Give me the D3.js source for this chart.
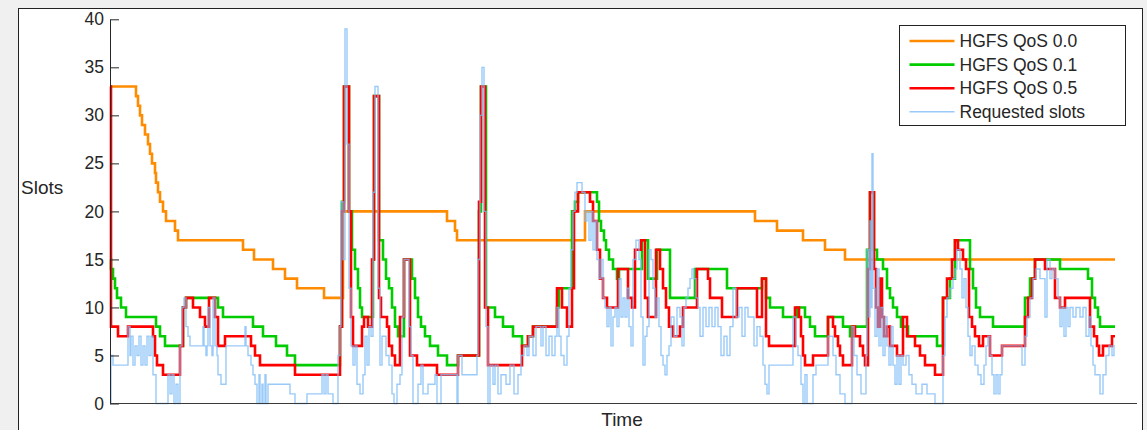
<!DOCTYPE html>
<html>
<head>
<meta charset="utf-8">
<script src="https://cdn.jsdelivr.net/npm/d3@7"></script>
<style>
  html, body { margin: 0; padding: 0; background: #f0f0f0; }
  svg { display: block; font-family: "Liberation Sans", Arial, sans-serif; }
</style>
</head>
<body>
<div id="chart"></div>
<script>
// Step series: [time, slots] (time in arbitrary sample units)
const qos00 = [[0,33],[26,32],[28,31],[30,30],[32,29],[35,28],[38,27],[40,26],[42,25],[45,24],[46,23],[48,22],[50,21],[53,20],[56,19],[65,18],[68,17],[133,16],[144,15],[163,14],[175,13],[187,12],[214,11],[233,20],[337,19],[345,18],[347,17],[475,20],[645,19],[667,18],[693,17],[715,16],[735,15],[1005,15]];

const qos01 = [[0,15],[1,14],[3,13],[5,12],[7,11],[11,10],[16,9],[46,8],[50,7],[55,6],[73,10],[76,11],[108,10],[113,9],[143,8],[153,7],[166,6],[177,5],[185,4],[230,8],[232,21],[234,33],[239,20],[242,16],[245,14],[248,12],[250,10],[252,9],[263,15],[264,32],[269,17],[273,15],[276,13],[279,12],[282,10],[285,8],[288,7],[294,15],[302,13],[305,11],[308,9],[311,8],[315,7],[320,6],[328,5],[337,4],[348,5],[369,20],[371,33],[376,10],[385,9],[393,8],[403,7],[412,6],[418,7],[423,8],[447,10],[449,12],[462,20],[465,21],[468,22],[487,21],[489,19],[491,18],[494,17],[496,16],[499,15],[503,14],[507,13],[509,14],[532,17],[538,13],[547,16],[560,11],[585,14],[617,12],[652,13],[656,11],[660,10],[673,9],[687,10],[695,9],[700,8],[705,7],[718,9],[733,8],[740,7],[743,8],[757,16],[760,22],[764,16],[767,15],[773,14],[777,12],[780,11],[783,10],[787,9],[791,8],[798,7],[827,6],[833,11],[840,13],[845,17],[860,14],[863,12],[866,10],[870,9],[883,8],[915,11],[920,13],[925,15],[950,14],[978,13],[982,11],[985,10],[988,9],[990,8],[1005,8]];

const qos05 = [[0,33],[1,8],[8,7],[18,8],[43,7],[45,5],[47,4],[53,3],[70,6],[73,10],[76,11],[83,10],[90,9],[95,8],[99,11],[105,9],[108,6],[115,7],[141,6],[145,5],[150,4],[185,3],[230,8],[232,20],[234,33],[239,20],[241,9],[243,6],[252,8],[254,9],[258,8],[262,15],[264,32],[269,11],[271,9],[277,8],[279,6],[282,5],[285,4],[290,9],[294,15],[300,5],[307,4],[327,3],[348,5],[369,21],[371,33],[375,10],[378,4],[412,6],[418,7],[423,8],[447,12],[452,10],[457,8],[462,12],[464,20],[468,22],[480,21],[483,19],[487,16],[490,13],[493,11],[497,10],[508,14],[518,11],[522,10],[525,16],[531,17],[535,11],[538,9],[546,16],[550,14],[553,12],[556,10],[559,8],[563,7],[570,8],[573,10],[587,14],[598,13],[600,11],[612,9],[627,12],[647,9],[652,13],[656,7],[659,6],[685,10],[689,9],[691,7],[693,5],[695,4],[703,5],[718,9],[723,8],[725,7],[728,6],[730,5],[733,4],[742,8],[745,7],[750,6],[753,5],[755,4],[758,14],[760,22],[764,14],[766,10],[768,8],[770,13],[772,9],[774,7],[777,8],[780,6],[787,5],[793,9],[797,7],[805,6],[810,5],[815,4],[825,3],[833,11],[837,13],[842,15],[845,17],[848,16],[853,15],[856,14],[859,9],[862,8],[865,7],[869,6],[873,7],[880,5],[892,6],[915,9],[918,11],[922,13],[925,15],[935,14],[945,11],[950,10],[955,11],[980,8],[984,7],[987,6],[989,5],[993,6],[1002,7],[1005,7]];

const requested = [[0,0],[1,5],[3,4],[18,8],[20,5],[21,7],[23,4],[25,6],[27,5],[29,7],[31,4],[33,6],[35,4],[37,7],[39,5],[41,7],[43,3],[46,0],[58,3],[60,1],[62,3],[64,0],[66,2],[68,0],[70,6],[72,10],[74,11],[76,8],[78,7],[80,6],[93,8],[94,6],[96,5],[97,6],[98,10],[100,6],[102,5],[103,11],[105,6],[107,5],[108,3],[111,2],[116,6],[135,8],[136,6],[138,5],[141,4],[143,3],[145,2],[147,0],[149,3],[150,0],[152,2],[153,0],[155,3],[156,0],[158,2],[180,1],[185,0],[197,1],[212,3],[214,1],[216,3],[218,1],[223,0],[228,5],[230,8],[231,21],[233,15],[235,39],[237,27],[239,12],[241,6],[243,4],[245,6],[247,2],[250,1],[253,3],[255,7],[257,4],[259,8],[261,7],[263,22],[265,33],[268,12],[270,4],[272,7],[276,5],[279,4],[282,1],[284,0],[287,2],[290,3],[292,9],[294,15],[299,8],[301,5],[303,0],[308,2],[311,4],[313,1],[318,2],[325,3],[327,0],[331,3],[347,0],[348,5],[352,3],[367,5],[368,15],[370,30],[372,35],[374,20],[376,8],[378,0],[380,4],[383,2],[385,4],[388,1],[391,3],[396,2],[400,4],[404,1],[408,3],[411,5],[414,6],[417,5],[419,7],[423,5],[426,8],[431,6],[433,8],[436,5],[439,7],[442,5],[445,7],[447,10],[449,7],[451,5],[454,4],[457,7],[459,12],[461,16],[463,20],[465,22],[467,23],[472,22],[475,19],[477,20],[479,17],[481,20],[483,16],[485,19],[487,15],[489,13],[491,15],[493,11],[495,10],[497,8],[499,10],[501,6],[503,9],[505,10],[507,8],[509,13],[511,9],[513,11],[515,9],[517,12],[519,8],[521,6],[523,15],[526,17],[529,15],[531,9],[533,4],[535,7],[537,8],[539,16],[541,15],[543,12],[545,9],[547,11],[549,8],[551,5],[553,4],[555,3],[557,5],[559,6],[561,9],[564,7],[567,10],[570,9],[572,6],[574,10],[576,11],[578,12],[580,13],[582,14],[584,13],[586,11],[588,10],[590,7],[593,10],[596,8],[599,10],[602,8],[605,10],[608,8],[611,5],[614,7],[617,5],[620,8],[623,12],[626,9],[629,10],[632,7],[635,10],[638,9],[641,9],[644,6],[647,8],[650,7],[653,4],[655,2],[657,1],[659,4],[683,9],[686,6],[688,5],[691,2],[693,0],[695,3],[697,0],[703,3],[706,4],[718,7],[723,5],[726,3],[730,1],[735,0],[742,8],[744,5],[747,3],[751,1],[756,5],[757,16],[759,9],[760,19],[761,10],[762,26],[763,12],[765,7],[767,14],[769,6],[771,10],[773,5],[775,9],[777,6],[779,4],[781,8],[783,4],[785,2],[787,5],[789,2],[791,5],[793,4],[796,5],[799,3],[802,2],[806,1],[812,2],[817,1],[825,0],[833,5],[835,9],[837,11],[840,12],[843,13],[845,14],[847,16],[850,14],[852,11],[854,13],[856,10],[858,7],[860,5],[862,6],[865,4],[868,3],[871,2],[874,4],[876,6],[878,7],[880,5],[882,3],[884,1],[886,3],[888,1],[890,3],[892,6],[912,4],[915,7],[917,9],[920,11],[923,13],[926,14],[930,13],[935,9],[937,15],[940,13],[942,14],[945,13],[948,11],[950,8],[952,10],[954,7],[956,10],[958,8],[960,10],[963,9],[966,10],[970,9],[973,10],[976,7],[979,9],[981,6],[983,4],[985,3],[990,1],[993,3],[996,5],[999,6],[1002,5],[1004,6],[1005,6]];

const yTicks = [0, 5, 10, 15, 20, 25, 30, 35, 40];

const series = [
  { name: 'HGFS QoS 0.0',    data: qos00,     color: '#ff8c00', width: 2.6, opacity: 1 },
  { name: 'HGFS QoS 0.1',    data: qos01,     color: '#00cc00', width: 2.6, opacity: 1 },
  { name: 'HGFS QoS 0.5',    data: qos05,     color: '#ff0000', width: 2.6, opacity: 1 },
  { name: 'Requested slots', data: requested, color: '#80bdf7', width: 1.4, opacity: 0.8 },
];

const width = 1147, height = 430;
const plot = { left: 110, right: 1137, top: 19.3, bottom: 403.5 };

const svg = d3.select('#chart').append('svg')
  .attr('width', width)
  .attr('height', height);

// figure panel
svg.append('rect')
  .attr('x', 18.5).attr('y', 8.5)
  .attr('width', 1124).attr('height', 440)
  .attr('fill', '#fff')
  .attr('stroke', '#222')
  .attr('stroke-width', 1);

const x = d3.scaleLinear().domain([0, 1027]).range([plot.left, plot.right]);
const y = d3.scaleLinear().domain([0, 40]).range([plot.bottom, plot.top]);

const line = d3.line()
  .x(d => x(d[0]))
  .y(d => y(d[1]))
  .curve(d3.curveStepAfter);

// ── Lines ────────────────────────────────────────
series.forEach(s => {
  svg.append('path')
    .datum(s.data)
    .attr('fill', 'none')
    .attr('stroke', s.color)
    .attr('stroke-width', s.width)
    .attr('stroke-opacity', s.opacity)
    .attr('d', line);
});

// ── Axes ─────────────────────────────────────────
const yAxis = svg.append('g')
  .attr('transform', `translate(${plot.left},0)`)
  .call(d3.axisLeft(y).tickValues(yTicks).tickSizeInner(-9).tickSizeOuter(0).tickPadding(6));
yAxis.select('.domain').attr('stroke', '#262626');
yAxis.selectAll('.tick line').attr('stroke', '#262626');
yAxis.selectAll('.tick text')
  .attr('fill', '#262626')
  .attr('font-size', 17.5)
  .attr('font-family', '"Liberation Sans", Arial, sans-serif');

svg.append('line')
  .attr('x1', plot.left).attr('x2', plot.right)
  .attr('y1', plot.bottom).attr('y2', plot.bottom)
  .attr('stroke', '#3a3a3a')
  .attr('stroke-width', 1.2);

svg.append('text')
  .attr('x', 21).attr('y', 194)
  .attr('fill', '#262626')
  .attr('font-size', 19)
  .text('Slots');

svg.append('text')
  .attr('x', 622).attr('y', 426)
  .attr('text-anchor', 'middle')
  .attr('fill', '#262626')
  .attr('font-size', 19)
  .text('Time');

// ── Legend ───────────────────────────────────────
const legend = svg.append('g').attr('transform', 'translate(899.5,25.5)');
legend.append('rect')
  .attr('width', 226).attr('height', 100)
  .attr('fill', '#fff')
  .attr('stroke', '#222')
  .attr('stroke-width', 1);

series.forEach((s, i) => {
  const ly = 15.5 + i * 23.6;
  legend.append('line')
    .attr('x1', 10).attr('x2', 55)
    .attr('y1', ly).attr('y2', ly)
    .attr('stroke', s.color)
    .attr('stroke-width', s.width)
    .attr('stroke-opacity', s.opacity);
  legend.append('text')
    .attr('x', 60).attr('y', ly + 6)
    .attr('fill', '#262626')
    .attr('font-size', 17.5)
    .text(s.name);
});
</script>
</body>
</html>
